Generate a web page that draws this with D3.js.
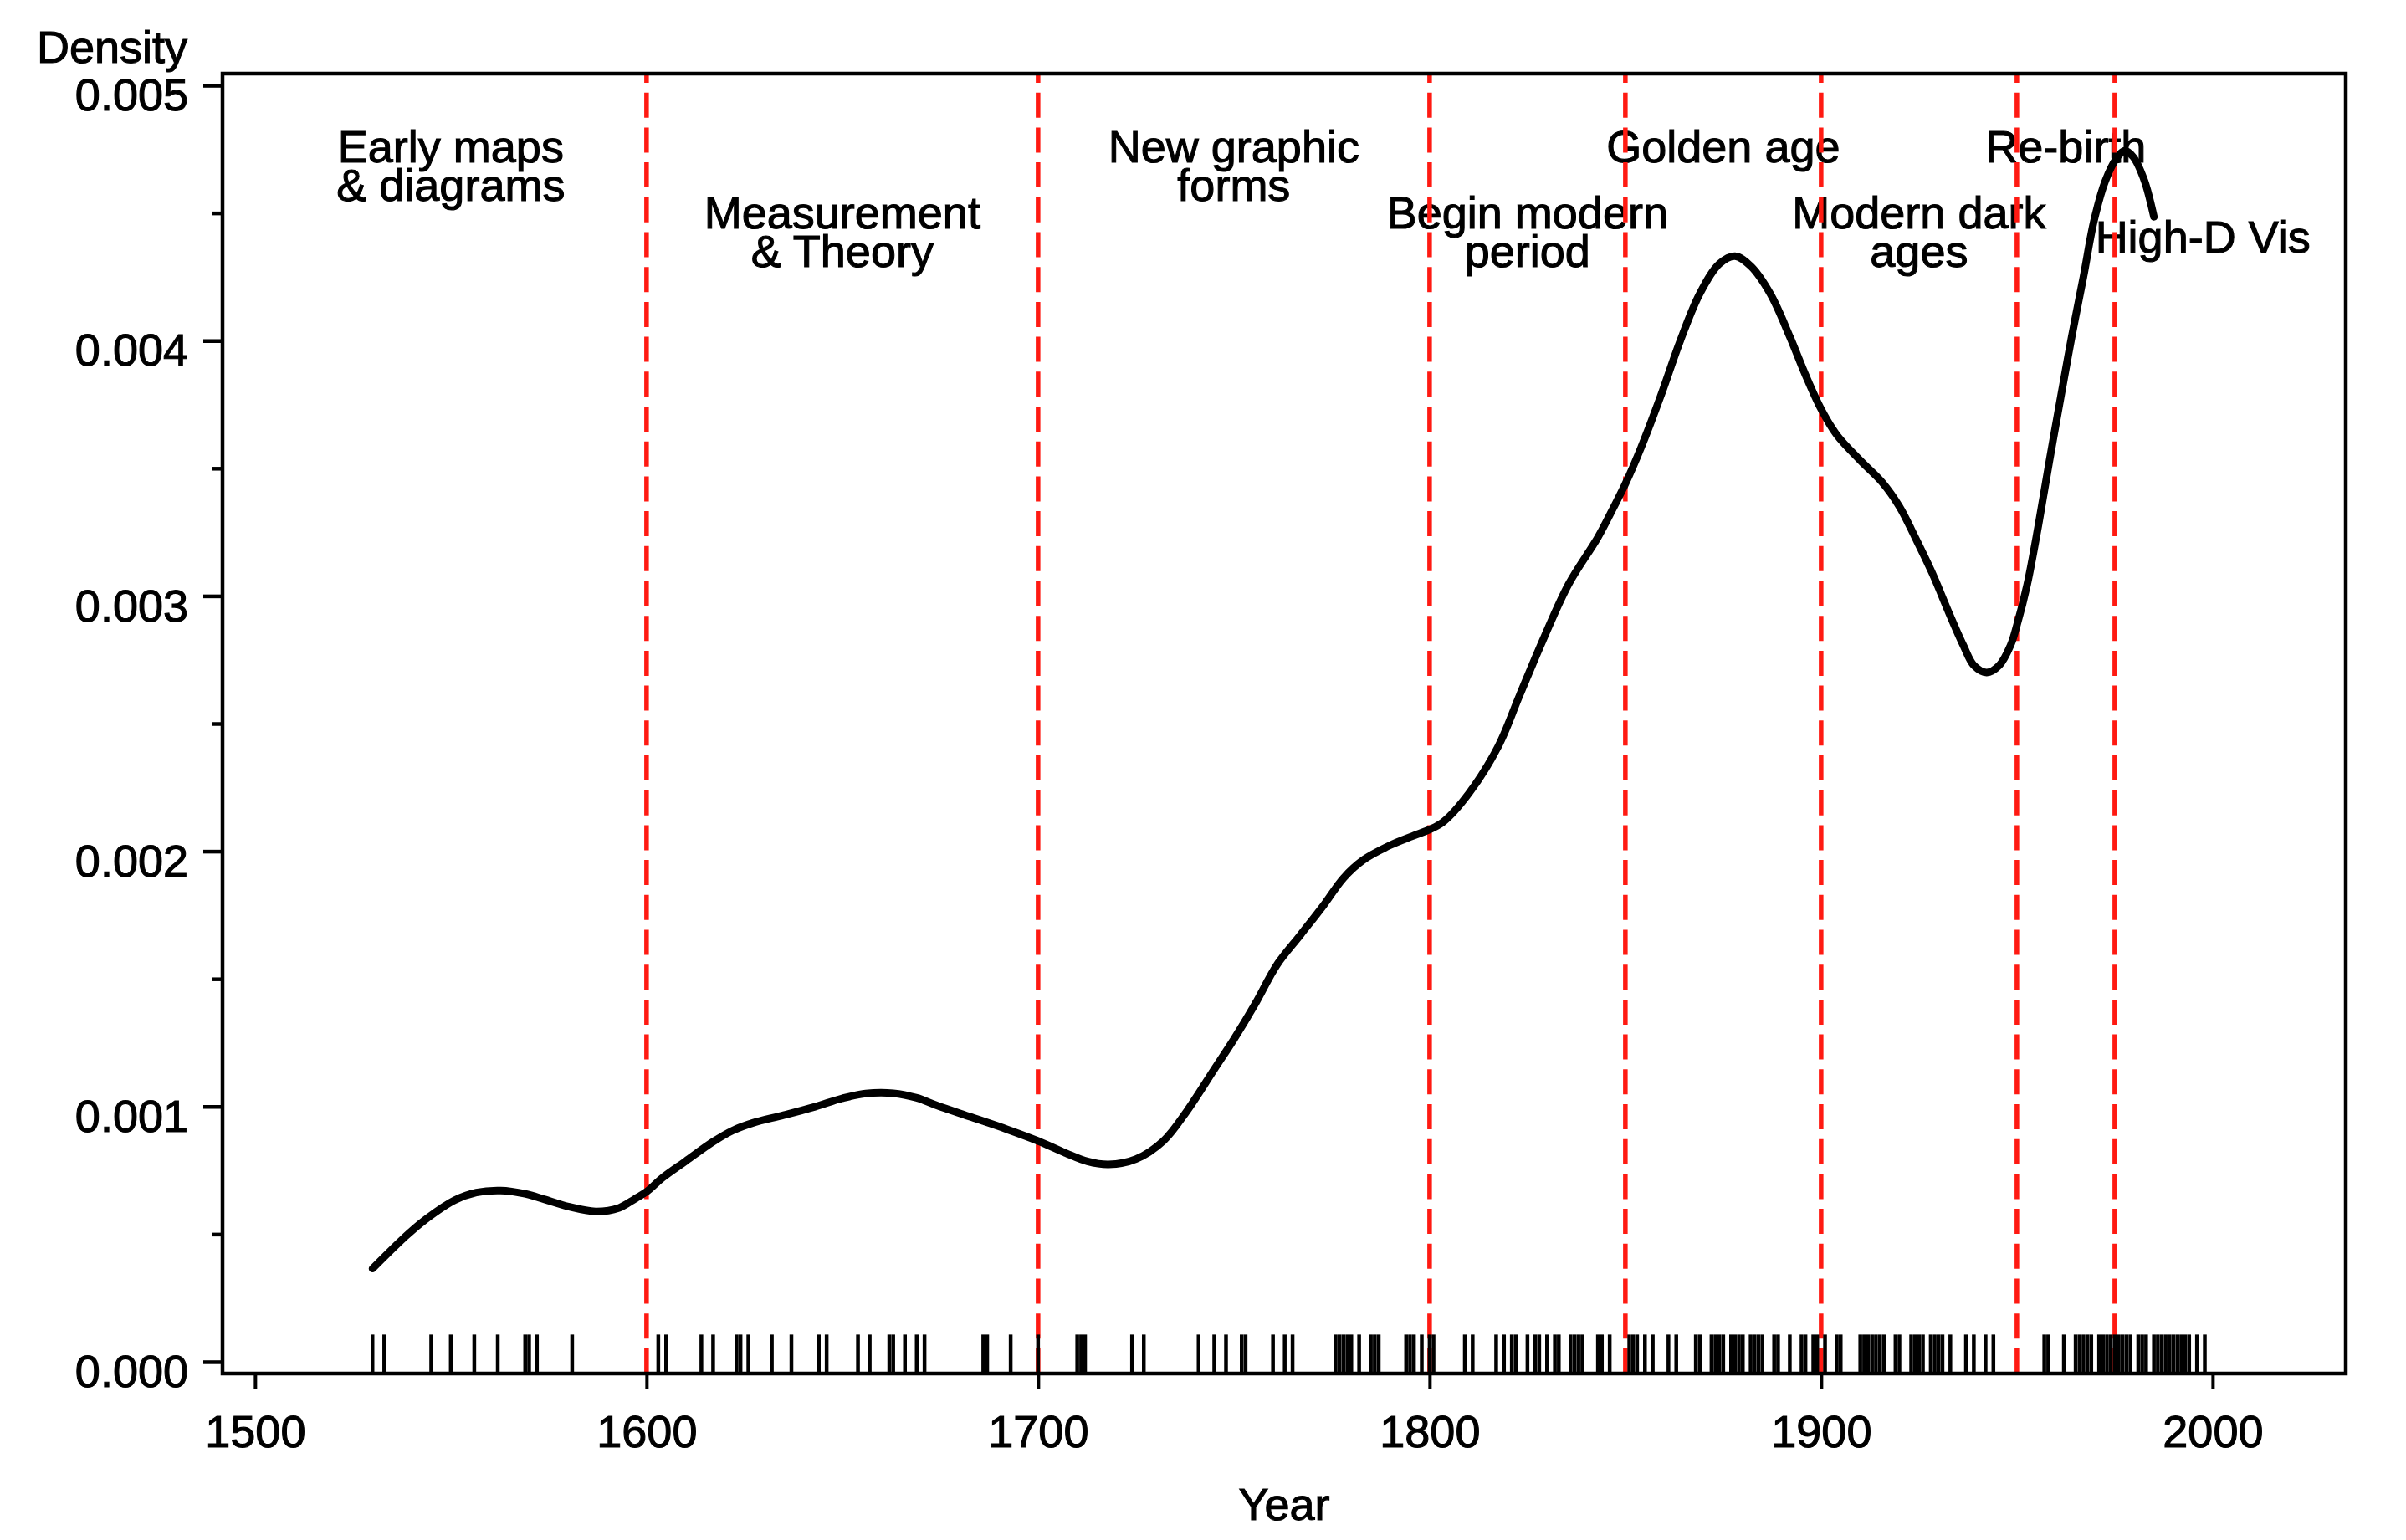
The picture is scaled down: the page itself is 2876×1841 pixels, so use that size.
<!DOCTYPE html>
<html>
<head>
<meta charset="utf-8">
<script src="https://cdn.jsdelivr.net/npm/d3@7"></script>
<style>
  body { margin: 0; background: #fff; }
  svg { display: block; }
  svg text { stroke: #000; stroke-width: 1.1px; }
</style>
</head>
<body>
<div id="chart"></div>
<script>
// rug: years of the milestones events
const eventYears = [
  1530, 1533, 1545, 1550, 1556, 1562, 1569, 1570, 1572, 1581,
  1603, 1605, 1614, 1617, 1623, 1624, 1626, 1632, 1637, 1644, 1646, 1654, 1657,
  1662, 1663, 1666, 1669, 1671, 1686, 1687, 1693, 1700,
  1710, 1711, 1712, 1724, 1727, 1741, 1745, 1748, 1752, 1753, 1760, 1763, 1765,
  1776, 1777, 1778, 1779, 1780, 1782, 1785, 1786, 1787, 1794, 1795, 1796, 1798, 1800,
  1801, 1809, 1811, 1817, 1819, 1821, 1822, 1825, 1827, 1828, 1830, 1832, 1833,
  1836, 1837, 1838, 1839, 1843, 1844, 1846, 1851, 1852, 1853, 1855, 1857, 1861, 1863,
  1868, 1869, 1872, 1873, 1874, 1875, 1877, 1878, 1879, 1880, 1882, 1883, 1884, 1885,
  1888, 1889, 1892, 1895, 1896, 1898, 1899,
  1901, 1904, 1905, 1910, 1911, 1912, 1913, 1914, 1915, 1916, 1919, 1920,
  1923, 1924, 1925, 1926, 1928, 1929, 1930, 1931, 1933, 1937, 1939, 1942, 1944,
  1957, 1958, 1962, 1965, 1966, 1967, 1968, 1969, 1971, 1972, 1973, 1974, 1975,
  1976, 1977, 1978, 1979, 1981, 1982, 1983, 1985, 1986, 1987, 1988, 1989, 1990,
  1991, 1992, 1993, 1994, 1996, 1998
];

// density curve
const curveYears = [
  1530, 1538, 1543, 1551, 1556.5, 1562.7, 1569, 1574, 1580, 1587, 1593, 1597,
  1600, 1604, 1610, 1617, 1622, 1627, 1635, 1643, 1650, 1656, 1663, 1669, 1674,
  1683, 1692, 1700, 1707, 1712.6, 1718, 1725, 1732, 1738, 1745, 1750, 1755.5,
  1761, 1767, 1773, 1778, 1783, 1790, 1795.6, 1800, 1803.5, 1810, 1817.5, 1823,
  1829, 1835.5, 1843, 1847, 1850, 1854, 1859, 1864, 1869, 1874, 1878, 1882, 1887,
  1892, 1896, 1900, 1904, 1910, 1915.6, 1920, 1924, 1928.4, 1932.7, 1936.3, 1939,
  1942.3, 1945.5, 1948.4, 1950, 1952.6, 1955.5, 1958.3, 1961.2, 1964, 1967, 1969.7,
  1972.6, 1975.4, 1977.6, 1979.7, 1982.6, 1985
];
const curveDensity = [
  0.000365, 0.000485, 0.000551, 0.000633, 0.000663, 0.000671, 0.000658, 0.000636,
  0.000608, 0.000589, 0.000603, 0.000638, 0.000666, 0.00072, 0.000786, 0.000862,
  0.000906, 0.000935, 0.000966, 0.000999, 0.001032, 0.001051, 0.001052, 0.001034,
  0.001005, 0.000958, 0.000911, 0.000865, 0.000818, 0.000785, 0.000773, 0.000794,
  0.000865, 0.000982, 0.001146, 0.001263, 0.001403, 0.001555, 0.001672, 0.00179,
  0.001895, 0.001965, 0.002024, 0.002059, 0.002085, 0.002115, 0.002226, 0.00241,
  0.002611, 0.002829, 0.003046, 0.00323, 0.003347, 0.003439, 0.003581, 0.003782,
  0.003999, 0.004184, 0.004301, 0.004331, 0.004292, 0.004184, 0.004016, 0.003866,
  0.003732, 0.003631, 0.003531, 0.003445, 0.00335, 0.00323, 0.003089, 0.002932,
  0.002807, 0.002728, 0.0027, 0.002728, 0.002807, 0.002885, 0.003042, 0.003277,
  0.003528, 0.003779, 0.004015, 0.00425, 0.00447, 0.004626, 0.004713, 0.004744,
  0.00472, 0.004626, 0.004485
];

// period boundaries and labels
const periodBreaks = [1600, 1700, 1800, 1850, 1900, 1950, 1975];
const periodLabels = [
  ["Early maps", "& diagrams"],
  ["Measurement", "& Theory"],
  ["New graphic", "forms"],
  ["Begin modern", "period"],
  ["Golden age"],
  ["Modern dark", "ages"],
  ["Re-birth"],
  ["High-D Vis"]
];
const labelYears = [1550, 1650, 1750, 1825, 1875, 1925, 1962.5, 1997.5];
const labelDensity = [0.0047, 0.00444, 0.0047, 0.00444, 0.0047, 0.00444, 0.0047, 0.004345];

const xTicks = [1500, 1600, 1700, 1800, 1900, 2000];
const yTicks = [0, 0.001, 0.002, 0.003, 0.004, 0.005];
const yMinorTicks = [0.0005, 0.0015, 0.0025, 0.0035, 0.0045];

const W = 2876, H = 1841;
const plotLeft = 266, plotRight = 2804, plotTop = 88, plotBottom = 1642;
const font = "'Liberation Sans', Arial, Helvetica, sans-serif";
const fs = 54;

const svg = d3.select("#chart").append("svg")
    .attr("width", W)
    .attr("height", H)
    .style("font-family", font);

svg.append("rect").attr("width", W).attr("height", H).attr("fill", "#fff");

const x = d3.scaleLinear().domain([1491.7, 2034]).range([plotLeft, plotRight]);
const y = d3.scaleLinear().domain([-0.000046, 0.005046]).range([plotBottom, plotTop]);

// period labels
const labels = svg.append("g")
    .attr("font-size", fs)
    .attr("text-anchor", "middle")
    .attr("fill", "#000");
periodLabels.forEach((lines, i) => {
    const t = labels.append("text")
        .attr("x", x(labelYears[i]))
        .attr("y", y(labelDensity[i]));
    lines.forEach((s, j) => {
        t.append("tspan")
            .attr("x", x(labelYears[i]))
            .attr("dy", j === 0 ? 0 : 46)
            .text(s);
    });
});

// red dashed boundaries
svg.append("g")
    .selectAll("line")
    .data(periodBreaks)
    .join("line")
    .attr("x1", d => x(d))
    .attr("x2", d => x(d))
    .attr("y1", plotTop)
    .attr("y2", plotBottom)
    .attr("stroke", "#ff1a12")
    .attr("stroke-width", 5.5)
    .attr("stroke-dasharray", "30,11.7")
    .attr("stroke-dashoffset", 19);

// density curve
const line = d3.line()
    .x((d, i) => x(curveYears[i]))
    .y(d => y(d))
    .curve(d3.curveCatmullRom.alpha(0.5));

svg.append("path")
    .datum(curveDensity)
    .attr("d", line)
    .attr("fill", "none")
    .attr("stroke", "#000")
    .attr("stroke-width", 9)
    .attr("stroke-linecap", "round")
    .attr("stroke-linejoin", "round");

// rug
const rugLen = 0.03 * (plotBottom - plotTop);
svg.append("g")
    .selectAll("line")
    .data(eventYears)
    .join("line")
    .attr("x1", d => x(d))
    .attr("x2", d => x(d))
    .attr("y1", plotBottom)
    .attr("y2", plotBottom - rugLen)
    .attr("stroke", "#000")
    .attr("stroke-width", 4.5);

// axes
const yAxis = svg.append("g")
    .attr("transform", `translate(${plotLeft},0)`)
    .call(d3.axisLeft(y).tickValues(yTicks).tickSize(23).tickPadding(18)
        .tickFormat(d3.format(".3f")))
    .call(g => g.select(".domain").remove());
yAxis.selectAll(".tick line").attr("stroke", "#000").attr("stroke-width", 4.5);
yAxis.selectAll(".tick text")
    .attr("font-size", fs)
    .attr("font-family", font)
    .attr("fill", "#000")
    .attr("dy", "0.55em");

const yMinor = svg.append("g")
    .attr("transform", `translate(${plotLeft},0)`)
    .call(d3.axisLeft(y).tickValues(yMinorTicks).tickSize(13).tickFormat(""))
    .call(g => g.select(".domain").remove());
yMinor.selectAll(".tick line").attr("stroke", "#000").attr("stroke-width", 4.5);

const xAxis = svg.append("g")
    .attr("transform", `translate(0,${plotBottom})`)
    .call(d3.axisBottom(x).tickValues(xTicks).tickSize(18).tickPadding(32)
        .tickFormat(d3.format("d")))
    .call(g => g.select(".domain").remove());
xAxis.selectAll(".tick line").attr("stroke", "#000").attr("stroke-width", 4);
xAxis.selectAll(".tick text")
    .attr("font-size", fs)
    .attr("font-family", font)
    .attr("fill", "#000");

// plot box
svg.append("rect")
    .attr("x", plotLeft)
    .attr("y", plotTop)
    .attr("width", plotRight - plotLeft)
    .attr("height", plotBottom - plotTop)
    .attr("fill", "none")
    .attr("stroke", "#000")
    .attr("stroke-width", 4.5);

// axis titles
svg.append("text")
    .attr("x", (plotLeft + plotRight) / 2)
    .attr("y", 1817)
    .attr("text-anchor", "middle")
    .attr("font-size", fs)
    .text("Year");

svg.append("text")
    .attr("x", 224)
    .attr("y", 75)
    .attr("text-anchor", "end")
    .attr("font-size", fs)
    .text("Density");
</script>
</body>
</html>
